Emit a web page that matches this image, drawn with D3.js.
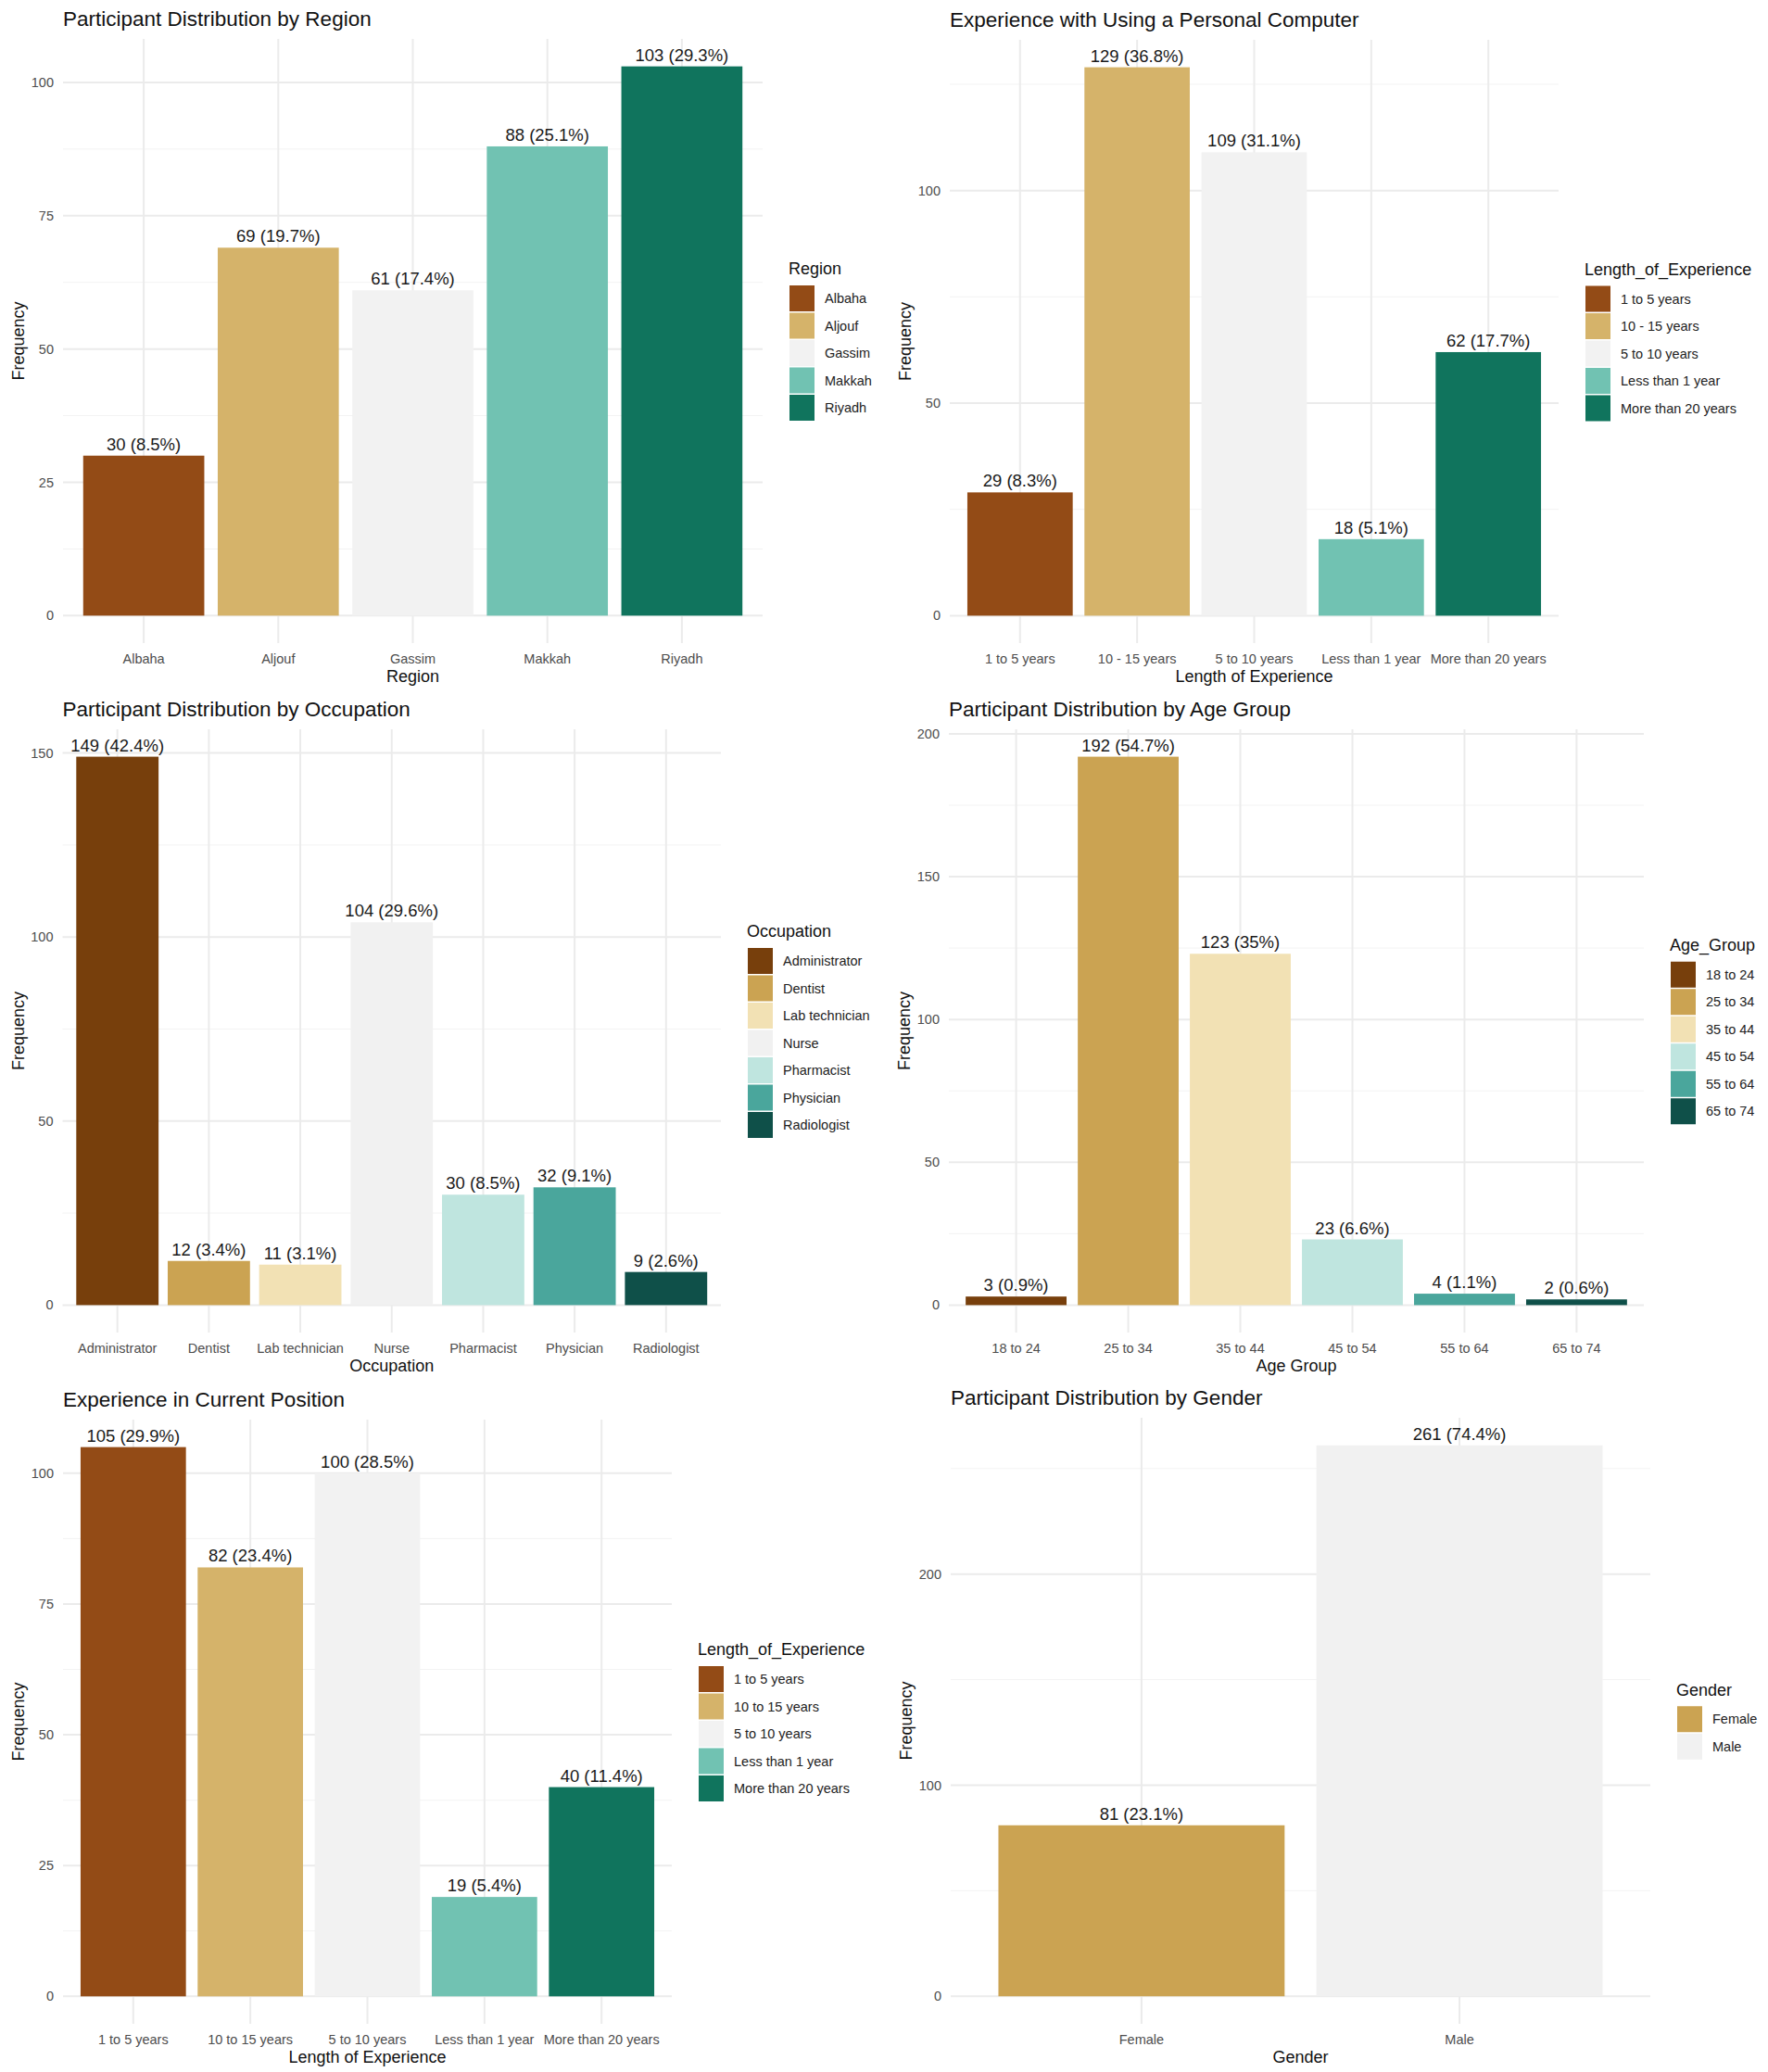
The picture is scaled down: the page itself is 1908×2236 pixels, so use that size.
<!DOCTYPE html>
<html>
<head>
<meta charset="utf-8">
<script src="https://cdn.jsdelivr.net/npm/d3@7"></script>
<style>
  html, body { margin: 0; padding: 0; background: #fff; }
  svg { display: block; font-family: "Liberation Sans", Arial, sans-serif; }
</style>
</head>
<body>
<svg id="chart" width="1908" height="2236"></svg>
<script>
// ---- data ----
const regionCats = ['Albaha', 'Aljouf', 'Gassim', 'Makkah', 'Riyadh'];
const regionCounts = [30, 69, 61, 88, 103];
const regionPct = [8.5, 19.7, 17.4, 25.1, 29.3];
const regionTicks = [0, 25, 50, 75, 100];

const pcCats = ['1 to 5 years', '10 - 15 years', '5 to 10 years', 'Less than 1 year', 'More than 20 years'];
const pcCounts = [29, 129, 109, 18, 62];
const pcPct = [8.3, 36.8, 31.1, 5.1, 17.7];
const pcTicks = [0, 50, 100];

const occCats = ['Administrator', 'Dentist', 'Lab technician', 'Nurse', 'Pharmacist', 'Physician', 'Radiologist'];
const occCounts = [149, 12, 11, 104, 30, 32, 9];
const occPct = [42.4, 3.4, 3.1, 29.6, 8.5, 9.1, 2.6];
const occTicks = [0, 50, 100, 150];

const ageCats = ['18 to 24', '25 to 34', '35 to 44', '45 to 54', '55 to 64', '65 to 74'];
const ageCounts = [3, 192, 123, 23, 4, 2];
const agePct = [0.9, 54.7, 35, 6.6, 1.1, 0.6];
const ageTicks = [0, 50, 100, 150, 200];

const curCats = ['1 to 5 years', '10 to 15 years', '5 to 10 years', 'Less than 1 year', 'More than 20 years'];
const curCounts = [105, 82, 100, 19, 40];
const curPct = [29.9, 23.4, 28.5, 5.4, 11.4];
const curTicks = [0, 25, 50, 75, 100];

const genderCats = ['Female', 'Male'];
const genderCounts = [81, 261];
const genderPct = [23.1, 74.4];
const genderTicks = [0, 100, 200];

// BrBG-like palettes as they appear in the picture
const pal5 = ['#934b16', '#d5b36a', '#f2f2f2', '#71c2b2', '#10745d'];
const pal7 = ['#773f0c', '#cba352', '#f2e1b4', '#f1f1f1', '#bfe5df', '#4aa69c', '#0f5049'];
const pal6 = ['#773f0c', '#cba352', '#f2e1b4', '#bfe5df', '#4aa69c', '#0f5049'];
const pal2 = ['#cba352', '#f1f1f1'];

const svg = d3.select('#chart');

function drawPanel(cfg) {
  const { box, cats, counts, pct, ticks, colors } = cfg;
  const g = svg.append('g');
  const max = d3.max(counts);

  // ggplot-style expansion: 0.6 units on discrete x, 5% on continuous y
  const x = d3.scaleLinear().domain([0.4, cats.length + 0.6]).range([box.x0, box.x1]);
  const y = d3.scaleLinear().domain([-0.05 * max, 1.05 * max]).range([box.y1, box.y0]);

  // minor gridlines (midpoints between majors)
  const step = ticks[1] - ticks[0];
  const minor = [];
  for (let v = ticks[0] + step / 2; v <= y.domain()[1]; v += step) minor.push(v);

  g.append('g').selectAll('line').data(minor).join('line')
    .attr('x1', box.x0).attr('x2', box.x1)
    .attr('y1', d => y(d)).attr('y2', d => y(d))
    .attr('stroke', '#f3f3f3').attr('stroke-width', 1);

  g.append('g').selectAll('line').data(ticks).join('line')
    .attr('x1', box.x0).attr('x2', box.x1)
    .attr('y1', d => y(d)).attr('y2', d => y(d))
    .attr('stroke', '#ebebeb').attr('stroke-width', 2);

  g.append('g').selectAll('line').data(cats).join('line')
    .attr('x1', (d, i) => x(i + 1)).attr('x2', (d, i) => x(i + 1))
    .attr('y1', box.y0).attr('y2', box.y1)
    .attr('stroke', '#ebebeb').attr('stroke-width', 2);

  // bars
  g.append('g').selectAll('rect').data(counts).join('rect')
    .attr('x', (d, i) => x(i + 1 - 0.45))
    .attr('width', x(1.45) - x(0.55))
    .attr('y', d => y(d))
    .attr('height', d => y(0) - y(d))
    .attr('fill', (d, i) => colors[i]);

  // value labels
  g.append('g').selectAll('text').data(counts).join('text')
    .attr('x', (d, i) => x(i + 1))
    .attr('y', d => y(d) - 6)
    .attr('text-anchor', 'middle')
    .attr('font-size', 18.5)
    .attr('fill', '#1a1a1a')
    .text((d, i) => `${d} (${pct[i]}%)`);

  // y tick labels
  g.append('g').selectAll('text').data(ticks).join('text')
    .attr('x', box.x0 - 10)
    .attr('y', d => y(d))
    .attr('dy', '0.35em')
    .attr('text-anchor', 'end')
    .attr('font-size', 14.5)
    .attr('fill', '#4d4d4d')
    .text(d => d);

  // x tick labels
  g.append('g').selectAll('text').data(cats).join('text')
    .attr('x', (d, i) => x(i + 1))
    .attr('y', box.y1 + 22)
    .attr('text-anchor', 'middle')
    .attr('font-size', 14.5)
    .attr('fill', '#4d4d4d')
    .text(d => d);

  // axis titles
  g.append('text')
    .attr('x', (box.x0 + box.x1) / 2)
    .attr('y', box.y1 + 42)
    .attr('text-anchor', 'middle')
    .attr('font-size', 18)
    .attr('fill', '#111')
    .text(cfg.xTitle);

  g.append('text')
    .attr('transform', `translate(${box.x0 - 42},${(box.y0 + box.y1) / 2}) rotate(-90)`)
    .attr('text-anchor', 'middle')
    .attr('font-size', 18)
    .attr('fill', '#111')
    .text('Frequency');

  // plot title
  g.append('text')
    .attr('x', box.x0)
    .attr('y', box.y0 - 14)
    .attr('font-size', 22.5)
    .attr('fill', '#111')
    .text(cfg.title);

  // legend
  const keyH = 29.5;
  const lx = box.x1 + 28;
  const top = (box.y0 + box.y1) / 2 - (26 + cats.length * keyH) / 2;
  const lg = g.append('g');
  lg.append('text')
    .attr('x', lx).attr('y', top + 15)
    .attr('font-size', 18).attr('fill', '#111')
    .text(cfg.legendTitle);
  const item = lg.selectAll('g').data(cats).join('g')
    .attr('transform', (d, i) => `translate(${lx},${top + 26 + i * keyH})`);
  item.append('rect')
    .attr('x', 1).attr('y', 0.75)
    .attr('width', 27).attr('height', keyH - 1.5)
    .attr('fill', (d, i) => colors[i]);
  item.append('text')
    .attr('x', 39).attr('y', keyH / 2)
    .attr('dy', '0.35em')
    .attr('font-size', 14.5).attr('fill', '#222')
    .text(d => d);
}

drawPanel({
  box: { x0: 68, x1: 823, y0: 42, y1: 694 },
  cats: regionCats, counts: regionCounts, pct: regionPct, ticks: regionTicks, colors: pal5,
  title: 'Participant Distribution by Region', xTitle: 'Region', legendTitle: 'Region'
});
drawPanel({
  box: { x0: 1025, x1: 1682, y0: 43, y1: 694 },
  cats: pcCats, counts: pcCounts, pct: pcPct, ticks: pcTicks, colors: pal5,
  title: 'Experience with Using a Personal Computer', xTitle: 'Length of Experience', legendTitle: 'Length_of_Experience'
});
drawPanel({
  box: { x0: 67.5, x1: 778, y0: 787, y1: 1438 },
  cats: occCats, counts: occCounts, pct: occPct, ticks: occTicks, colors: pal7,
  title: 'Participant Distribution by Occupation', xTitle: 'Occupation', legendTitle: 'Occupation'
});
drawPanel({
  box: { x0: 1024, x1: 1774, y0: 787, y1: 1438 },
  cats: ageCats, counts: ageCounts, pct: agePct, ticks: ageTicks, colors: pal6,
  title: 'Participant Distribution by Age Group', xTitle: 'Age Group', legendTitle: 'Age_Group'
});
drawPanel({
  box: { x0: 68, x1: 725, y0: 1532, y1: 2184 },
  cats: curCats, counts: curCounts, pct: curPct, ticks: curTicks, colors: pal5,
  title: 'Experience in Current Position', xTitle: 'Length of Experience', legendTitle: 'Length_of_Experience'
});
drawPanel({
  box: { x0: 1026, x1: 1781, y0: 1530, y1: 2184 },
  cats: genderCats, counts: genderCounts, pct: genderPct, ticks: genderTicks, colors: pal2,
  title: 'Participant Distribution by Gender', xTitle: 'Gender', legendTitle: 'Gender'
});
</script>
</body>
</html>
